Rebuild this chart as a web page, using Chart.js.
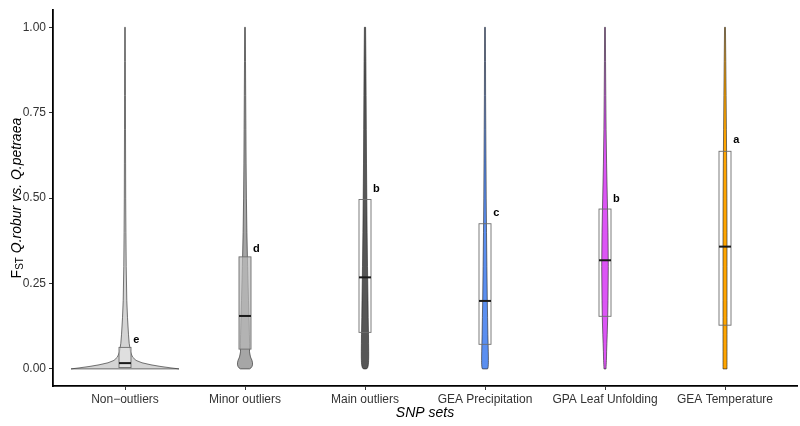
<!DOCTYPE html>
<html>
<head>
<meta charset="utf-8">
<script src="https://cdn.jsdelivr.net/npm/chart.js@4.4.0/dist/chart.umd.min.js"></script>
<style>
  html, body { margin: 0; padding: 0; background: #fff; }
  #wrap { width: 800px; height: 426px; }
</style>
</head>
<body>
<div id="wrap"><canvas id="chart"></canvas></div>
<script>
// -----------------------------
// DATA
// -----------------------------
const categories = ["Non\u2212outliers", "Minor outliers", "Main outliers",
                    "GEA Precipitation", "GPA Leaf Unfolding", "GEA Temperature"];
const yTicks = [0, 0.25, 0.5, 0.75, 1];

// FST values where the violin density is sampled
const fstGrid = [0, 0.003, 0.007, 0.012, 0.018, 0.025, 0.035, 0.05, 0.075, 0.1,
                 0.15, 0.2, 0.3, 0.4, 0.5, 0.6, 0.7, 0.8, 0.9, 1.0];

// relative density of each SNP set along fstGrid
const densNonOutliers = [54, 46, 36, 26, 17, 11, 7.5, 5.5, 4.2, 3.5, 2.5, 1.8, 1.2, 0.9, 0.7, 0.6, 0.5, 0.45, 0.4, 0.3];
const densMinor       = [4.5, 6, 7, 7.5, 7.5, 7, 5.5, 4.5, 4.6, 4.4, 4, 3.5, 2.6, 1.9, 1.4, 1.1, 0.9, 0.7, 0.5, 0.35];
const densMain        = [1.5, 2.5, 3, 3.3, 3.5, 3.6, 3.7, 3.7, 3.6, 3.5, 3.2, 3.0, 2.5, 2.1, 1.8, 1.5, 1.3, 1.1, 0.9, 0.6];
const densPrecip      = [2.5, 3, 3.2, 3.3, 3.4, 3.4, 3.4, 3.3, 3.1, 2.9, 2.6, 2.3, 1.9, 1.5, 1.2, 1.0, 0.8, 0.6, 0.5, 0.4];
const densLeaf        = [1.0, 1.05, 1.1, 1.2, 1.3, 1.4, 1.5, 1.6, 1.9, 2.2, 2.7, 3.0, 3.3, 3.0, 2.3, 1.6, 1.1, 0.8, 0.55, 0.4];
const densTemp        = [2.0, 2.0, 2.0, 2.0, 2.0, 2.0, 2.0, 2.0, 2.0, 2.0, 2.0, 2.0, 2.0, 2.0, 1.9, 1.7, 1.4, 1.1, 0.8, 0.45];
const densities = [densNonOutliers, densMinor, densMain, densPrecip, densLeaf, densTemp];

// box plot quartiles
const boxQ1     = [0.004, 0.058, 0.107, 0.072, 0.154, 0.128];
const boxMedian = [0.017, 0.155, 0.268, 0.199, 0.318, 0.358];
const boxQ3     = [0.063, 0.328, 0.496, 0.425, 0.468, 0.637];

// significance letters
const groupLetters = ["e", "d", "b", "c", "b", "a"];
const letterY      = [0.086, 0.35, 0.527, 0.456, 0.498, 0.669];

// -----------------------------
// STYLE
// -----------------------------
const fontFamily = '"Liberation Sans", Arial, Helvetica, sans-serif';
const violinFill = ["#d4d4d4", "#a6a6a6", "#575757", "#5b8ff0", "#dc55f5", "#ffa500"];
const boxFill = ["rgba(230,230,230,0.6)", "rgba(185,185,185,0.7)", "rgba(255,255,255,0)",
                 "rgba(255,255,255,0)", "rgba(255,255,255,0)", "rgba(255,255,255,0)"];
const violinHalfWidth = 0.45;   // in category units
const boxHalfWidth = 0.05;

/* =========================
   VIOLINS + BOXES + LETTERS
========================= */
const violinPlugin = {
    id: "violins",
    afterDatasetsDraw(chart) {
        const { ctx, scales: { x, y } } = chart;
        const maxD = Math.max(...densities.flat());
        ctx.save();

        densities.forEach((dens, i) => {
            const c = i + 1;
            // violin outline: right side going up, left side coming down
            ctx.beginPath();
            fstGrid.forEach((v, k) => {
                const px = x.getPixelForValue(c + dens[k] / maxD * violinHalfWidth);
                const py = y.getPixelForValue(v);
                k === 0 ? ctx.moveTo(px, py) : ctx.lineTo(px, py);
            });
            for (let k = fstGrid.length - 1; k >= 0; k--) {
                ctx.lineTo(x.getPixelForValue(c - dens[k] / maxD * violinHalfWidth),
                           y.getPixelForValue(fstGrid[k]));
            }
            ctx.closePath();
            ctx.fillStyle = violinFill[i];
            ctx.fill();
            ctx.strokeStyle = "rgba(40,40,40,0.7)";
            ctx.lineWidth = 0.9;
            ctx.stroke();

            // box
            const left = x.getPixelForValue(c - boxHalfWidth);
            const right = x.getPixelForValue(c + boxHalfWidth);
            const top = y.getPixelForValue(boxQ3[i]);
            const bottom = y.getPixelForValue(boxQ1[i]);
            ctx.fillStyle = boxFill[i];
            ctx.fillRect(left, top, right - left, bottom - top);
            ctx.strokeStyle = "#6e6e6e";
            ctx.lineWidth = 0.9;
            ctx.strokeRect(left, top, right - left, bottom - top);

            // median
            const my = y.getPixelForValue(boxMedian[i]);
            ctx.beginPath();
            ctx.moveTo(left, my);
            ctx.lineTo(right, my);
            ctx.strokeStyle = "#1a1a1a";
            ctx.lineWidth = 2;
            ctx.stroke();

            // letter
            ctx.fillStyle = "#000";
            ctx.font = "bold 11px " + fontFamily;
            ctx.textAlign = "center";
            ctx.textBaseline = "middle";
            ctx.fillText(groupLetters[i], x.getPixelForValue(c + 0.095), y.getPixelForValue(letterY[i]));
        });
        ctx.restore();
    },
    afterDraw(chart) {
        const { ctx, chartArea } = chart;
        ctx.save();
        ctx.fillStyle = "#000";
        ctx.textBaseline = "middle";

        // x axis title
        ctx.font = "italic 14px " + fontFamily;
        ctx.textAlign = "center";
        ctx.fillText("SNP sets", (chartArea.left + chartArea.right) / 2, 413);

        // y axis title: F_ST Q.robur vs. Q.petraea
        const parts = [
            { t: "F", f: "14px " + fontFamily, dy: 0 },
            { t: "ST", f: "10px " + fontFamily, dy: 3 },
            { t: " Q.robur vs. Q.petraea", f: "italic 14px " + fontFamily, dy: 0 }
        ];
        let total = 0;
        parts.forEach(p => { ctx.font = p.f; p.w = ctx.measureText(p.t).width; total += p.w; });
        ctx.translate(17, (chartArea.top + chartArea.bottom) / 2);
        ctx.rotate(-Math.PI / 2);
        ctx.textAlign = "left";
        let cx = -total / 2;
        parts.forEach(p => {
            ctx.font = p.f;
            ctx.fillText(p.t, cx, p.dy);
            cx += p.w;
        });
        ctx.restore();
    }
};

new Chart(document.getElementById("chart"), {
    type: "scatter",
    data: { datasets: [{ data: [], pointRadius: 0 }] },
    options: {
        responsive: true,
        maintainAspectRatio: false,
        animation: false,
        layout: { padding: { top: 7, right: 3, left: 0, bottom: 0 } },
        plugins: { legend: { display: false }, tooltip: { enabled: false } },
        scales: {
            x: {
                type: "linear",
                min: 0.4,
                max: 6.6,
                afterBuildTicks: s => { s.ticks = categories.map((c, i) => ({ value: i + 1 })); },
                afterFit: s => { s.height = 40; },
                ticks: {
                    callback: v => categories[Math.round(v) - 1] || "",
                    color: "#333",
                    font: { size: 12, family: fontFamily },
                    padding: 2,
                    maxRotation: 0,
                    autoSkip: false
                },
                grid: { display: true, drawOnChartArea: false, tickLength: 4, color: "#333", lineWidth: 1 },
                border: { display: true, color: "#000", width: 1.8 }
            },
            y: {
                min: -0.05,
                max: 1.05,
                afterBuildTicks: s => { s.ticks = yTicks.map(v => ({ value: v })); },
                afterFit: s => { s.width = 53; },
                ticks: {
                    callback: v => v.toFixed(2),
                    color: "#333",
                    font: { size: 12, family: fontFamily },
                    padding: 3
                },
                grid: { display: true, drawOnChartArea: false, tickLength: 4, color: "#333", lineWidth: 1 },
                border: { display: true, color: "#000", width: 1.8 }
            }
        }
    },
    plugins: [violinPlugin]
});
</script>
</body>
</html>
